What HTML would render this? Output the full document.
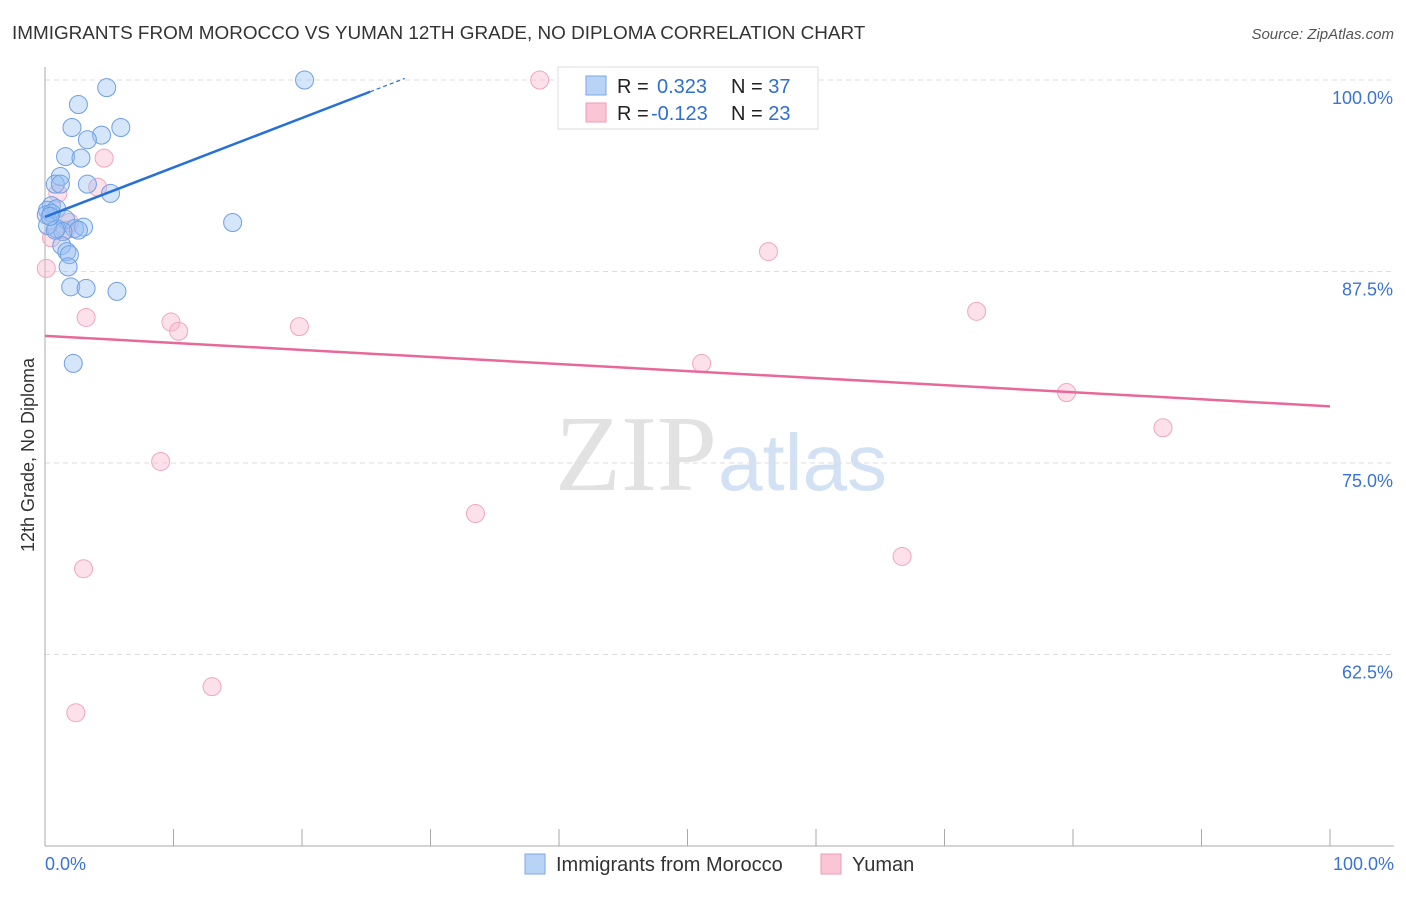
<!DOCTYPE html>
<html><head><meta charset="utf-8"><style>
body{margin:0;background:#fff;font-family:"Liberation Sans",sans-serif}
</style></head><body>
<svg id="c" width="1406" height="892" xmlns="http://www.w3.org/2000/svg">
<text x="12" y="39" font-size="18.9" fill="#333">IMMIGRANTS FROM MOROCCO VS YUMAN 12TH GRADE, NO DIPLOMA CORRELATION CHART</text>
<text x="1394" y="39" font-size="15" fill="#555" font-style="italic" text-anchor="end">Source: ZipAtlas.com</text>
<text x="555" y="490" font-size="108" fill="#e2e2e2" font-family="Liberation Serif,serif">ZIP<tspan x="718" fill="#d3e1f5" font-family="Liberation Sans,sans-serif" font-size="80">atlas</tspan></text>
<text transform="translate(34,455) rotate(-90)" font-size="18" fill="#333" text-anchor="middle">12th Grade, No Diploma</text>
<g id="grid"></g><g id="axes"></g><g id="pts"></g><g id="lines"></g>
<g>
<rect x="558" y="67" width="260" height="62" fill="#fff" stroke="#ddd"/>
<rect x="586" y="76" width="20" height="19" fill="#b9d3f7" stroke="#7aa8e6"/>
<rect x="586" y="103" width="20" height="19" fill="#fac6d6" stroke="#f09ab5"/>
<text x="617" y="93" font-size="20" fill="#222">R = <tspan x="657" fill="#2f6fd0">0.323</tspan><tspan x="731" fill="#222">N = </tspan><tspan fill="#2f6fd0">37</tspan></text>
<text x="617" y="120" font-size="20" fill="#222">R = <tspan x="651" fill="#2f6fd0">-0.123</tspan><tspan x="731" fill="#222">N = </tspan><tspan fill="#2f6fd0">23</tspan></text>
</g>
<g>
<rect x="525" y="854" width="20" height="20" fill="#b9d3f7" stroke="#7aa8e6"/>
<text x="556" y="871" font-size="20" fill="#333">Immigrants from Morocco</text>
<rect x="821" y="854" width="20" height="20" fill="#fac6d6" stroke="#f09ab5"/>
<text x="852" y="871" font-size="20" fill="#333">Yuman</text>
</g>
</svg>
<script>
const yTicks=[100,87.5,75,62.5];
const yTickLabels=["100.0%","87.5%","75.0%","62.5%"];
const xLabels=["0.0%","100.0%"];
const blueX=[4.8,20.2,2.6,2.1,5.9,4.4,3.3,1.6,2.8,1.2,0.8,1.2,3.3,5.1,0.5,0.2,0.9,0.1,0.5,14.6,1.6,0.9,2.3,3.0,2.6,1.4,1.3,1.7,1.9,1.8,2.0,3.2,5.6,2.2,0.2,0.8,0.4];
const blueY=[99.5,100,98.4,96.9,96.9,96.4,96.1,95.0,94.9,93.7,93.2,93.2,93.2,92.6,91.8,91.5,91.6,91.2,91.3,90.7,90.9,90.3,90.3,90.4,90.2,90.1,89.2,88.8,88.6,87.8,86.5,86.4,86.2,81.5,90.5,90.2,91.1];
const pinkX=[38.5,4.6,4.1,1.0,1.9,1.6,0.5,0.1,56.3,3.2,9.8,10.4,19.8,72.5,51.1,79.5,87.0,9.0,33.5,66.7,3.0,13.0,2.4];
const pinkY=[100,94.9,93.0,92.6,90.7,90.2,89.7,87.7,88.8,84.5,84.2,83.6,83.9,84.9,81.5,79.6,77.3,75.1,71.7,68.9,68.1,60.4,58.7];
const blueTrend=[91.06,0.323];
const pinkTrend=[83.3,-0.046];
const X=v=>45+v*12.85, Y=v=>80+(100-v)*15.32;
const NS="http://www.w3.org/2000/svg";
function mk(p,t,a){const e=document.createElementNS(NS,t);for(const k in a)e.setAttribute(k,a[k]);document.getElementById(p).appendChild(e);return e;}
yTicks.forEach((t,i)=>{
 const g=mk('grid','line',{x1:45,x2:1394,y1:Y(t),y2:Y(t),stroke:'#ddd','stroke-dasharray':'5,4'});
 
 
 const l=mk('grid','text',{x:1393,y:Y(t)+24,'font-size':18,fill:'#3b73d4','text-anchor':'end'});
 l.textContent=yTickLabels[i];
 
 
});
const ya=mk('axes','line',{x1:45,x2:45,y1:67,y2:846,stroke:'#aaa'});


const xa=mk('axes','line',{x1:45,x2:1394,y1:846,y2:846,stroke:'#aaa'});


for(let i=0;i<=10;i++){
 const t=mk('axes','line',{x1:X(i*10),x2:X(i*10),y1:829,y2:846,stroke:'#aaa'});
 
 
}
[[0,'start',45],[100,'end',1394]].forEach((d,i)=>{
 const l=mk('axes','text',{x:d[2],y:870,'font-size':18,fill:'#3b73d4','text-anchor':d[1]});
 l.textContent=xLabels[i];
 
 
});
function pts(xs,ys,fill,stroke,name){
 xs.forEach((x,i)=>{
  const c=mk('pts','circle',{cx:X(x),cy:Y(ys[i]),r:9,fill:fill,stroke:stroke,'stroke-width':1});
  
  
 });
}
pts(pinkX,pinkY,'rgba(248,180,202,0.4)','#f2a6bd','point-yuman');
pts(blueX,blueY,'rgba(150,190,242,0.4)','#6f9fe4','point-morocco');
const bl=mk('lines','line',{x1:X(0),y1:Y(blueTrend[0]),x2:X(25.3),y2:Y(blueTrend[0]+blueTrend[1]*25.3),stroke:'#2670d8','stroke-width':2.5});


const bd=mk('lines','line',{x1:X(25.3),y1:Y(blueTrend[0]+blueTrend[1]*25.3),x2:X(28),y2:Y(blueTrend[0]+blueTrend[1]*28),stroke:'#2670d8','stroke-width':1.2,'stroke-dasharray':'4,3'});


const pl=mk('lines','line',{x1:X(0),y1:Y(pinkTrend[0]),x2:X(100),y2:Y(pinkTrend[0]+pinkTrend[1]*100),stroke:'#e8689a','stroke-width':2.5});


</script>
</body></html>
